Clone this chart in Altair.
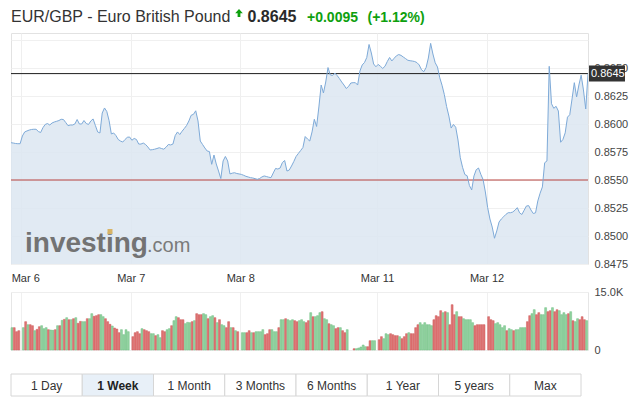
import altair as alt
import pandas as pd

# ---------------- data ----------------
# EUR/GBP price, one reading per 30-minute slot boundary (254 readings)
price = [
    0.85833, 0.85830, 0.85826, 0.85824, 0.85824, 0.85893, 0.85929, 0.85938, 0.85946, 0.85951,
    0.85953, 0.85953, 0.85933, 0.85924, 0.85967, 0.85996, 0.86004, 0.85991, 0.86009, 0.86018,
    0.86024, 0.86031, 0.86042, 0.86040, 0.86013, 0.85985, 0.85991, 0.85991, 0.86000, 0.86040,
    0.86000, 0.86000, 0.86031, 0.86004, 0.85996, 0.86027, 0.86045, 0.85987, 0.85929, 0.85920,
    0.86098, 0.86143, 0.86112, 0.86031, 0.85911, 0.85920, 0.85897, 0.85862, 0.85848, 0.85839,
    0.85862, 0.85881, 0.85884, 0.85855, 0.85871, 0.85862, 0.85821, 0.85821, 0.85830, 0.85817,
    0.85795, 0.85768, 0.85771, 0.85775, 0.85781, 0.85788, 0.85781, 0.85775, 0.85793, 0.85817,
    0.85813, 0.85821, 0.85897, 0.85929, 0.85906, 0.85935, 0.85960, 0.85987, 0.86027, 0.86078,
    0.86086, 0.86118, 0.86027, 0.85848, 0.85817, 0.85786, 0.85759, 0.85754, 0.85640, 0.85723,
    0.85643, 0.85580, 0.85513, 0.85670, 0.85710, 0.85670, 0.85554, 0.85561, 0.85565, 0.85558,
    0.85554, 0.85550, 0.85542, 0.85533, 0.85527, 0.85521, 0.85518, 0.85512, 0.85506, 0.85513,
    0.85527, 0.85536, 0.85531, 0.85525, 0.85521, 0.85563, 0.85603, 0.85598, 0.85607, 0.85656,
    0.85674, 0.85580, 0.85589, 0.85625, 0.85665, 0.85710, 0.85737, 0.85763, 0.85790, 0.85888,
    0.85866, 0.85848, 0.85929, 0.86042, 0.85978, 0.86152, 0.86348, 0.86277, 0.86375, 0.86504,
    0.86438, 0.86433, 0.86455, 0.86433, 0.86406, 0.86375, 0.86348, 0.86317, 0.86335, 0.86366,
    0.86369, 0.86369, 0.86348, 0.86473, 0.86527, 0.86549, 0.86594, 0.86710, 0.86634, 0.86536,
    0.86511, 0.86532, 0.86515, 0.86496, 0.86516, 0.86558, 0.86594, 0.86563, 0.86587, 0.86609,
    0.86620, 0.86613, 0.86598, 0.86584, 0.86569, 0.86565, 0.86562, 0.86558, 0.86548, 0.86527,
    0.86484, 0.86467, 0.86503, 0.86589, 0.86720, 0.86625, 0.86547, 0.86509, 0.86413, 0.86346,
    0.86263, 0.86156, 0.86071, 0.85964, 0.85996, 0.85971, 0.85857, 0.85699, 0.85613, 0.85549,
    0.85538, 0.85451, 0.85411, 0.85536, 0.85592, 0.85607, 0.85551, 0.85504, 0.85393, 0.85254,
    0.85152, 0.85080, 0.84980, 0.85045, 0.85125, 0.85152, 0.85172, 0.85193, 0.85208, 0.85208,
    0.85214, 0.85231, 0.85253, 0.85207, 0.85192, 0.85230, 0.85268, 0.85271, 0.85232, 0.85201,
    0.85207, 0.85313, 0.85382, 0.85438, 0.85654, 0.85670, 0.86515, 0.86181, 0.86140, 0.86158,
    0.86116, 0.85837, 0.85862, 0.85921, 0.86061, 0.86083, 0.86224, 0.86369, 0.86241, 0.86348,
    0.86436, 0.86304, 0.86134, 0.86450,
]

# volume bars per 30-minute slot, by session (u = up bar, d = down bar)
vol_pre = [5780, 5780, 4740, 5000]
dir_pre = "uddd"
vol_mar6 = [5780, 7330, 6550, 6550, 6290, 5000, 5340, 6030, 6290, 5520,
            5780, 5260, 5170, 5090, 5260, 6290, 6290, 7670, 7930, 8360,
            7840, 7840, 8100, 8360, 6900, 7410, 7330, 7330, 8100, 8100,
            9400, 8710, 8880, 9140, 9140, 8620, 8100, 7330, 6640, 6210,
            5690, 5430, 4480, 5260, 3970, 5260, 4740]
dir_mar6 = "ududdudduu" "uduudududu" "dududduudu" "uddduudddu" "ddduuuu"
vol_mar7 = [3450, 4480, 4740, 4220, 5520, 5260, 5000, 4740, 4220, 4220,
            3710, 3970, 3190, 5000, 4740, 5260, 5520, 6290, 7590, 8620,
            8360, 7840, 7840, 6810, 7160, 7070, 7330, 7590, 9400, 9140,
            9140, 9400, 9140, 8100, 8620, 8880, 8360, 7070, 7840, 6550,
            6290, 5780, 7330, 5780, 5780, 5000, 4740]
dir_mar7 = "dddduddduu" "duudduuduu" "ddduuududd" "duuduududu" "uddudud"
vol_mar8 = [4480, 4480, 4480, 5000, 4480, 4480, 4740, 4740, 4740, 5260,
            3970, 4220, 5260, 5260, 4740, 4740, 5780, 7840, 7840, 8100,
            7840, 7590, 7840, 7590, 7330, 7590, 7840, 7330, 7070, 7590,
            9660, 8620, 8620, 8880, 9660, 9910, 8100, 7840, 6810, 6550,
            6290, 5520, 5780, 5780, 5000, 4480, 5260]
dir_mar8 = "uudduduuuu" "ddduuuduud" "uuudduuudd" "uduuuduudu" "udduddu"
vol_sun = [340, 340, 520, 780, 1290, 860, 860, 2410, 2410, 2410]
dir_sun = "duuuuudduu"
vol_mar11 = [2670, 3450, 2930, 4220, 3970, 4220, 3970, 3710, 3710, 3450,
             2930, 3450, 4220, 4480, 4220, 4220, 5780, 6550, 7070, 6550,
             7070, 6550, 6550, 6290, 7840, 8880, 8620, 10170, 9660, 9910,
             9660, 6550, 11720, 9140, 9910, 8620, 8620, 8100, 7840, 7840,
             7840, 7070, 6290, 6550, 6550, 6550, 6550]
dir_mar11 = "dduuuddddu" "dddudddduu" "uuuuddddud" "udddudduuu" "uuddddd"
vol_mar12 = [8620, 7840, 7590, 6810, 7070, 6550, 5780, 6290, 5000, 5520,
             5260, 5000, 5260, 5260, 5780, 5780, 5780, 7330, 8880, 9400,
             10430, 9140, 9660, 9140, 9140, 10950, 9910, 10170, 10950, 9910,
             10430, 10170, 9140, 9660, 9140, 9400, 9910, 7590, 7330, 8100,
             7840, 8620, 7840, 7590]
dir_mar12 = "ddduuuuudu" "uduuuuuddu" "udduuuddud" "duuuududuu" "dddu"

# sessions in order; an int entry = number of empty slots
sessions = [(vol_pre, dir_pre), 1, (vol_mar6, dir_mar6), 1, (vol_mar7, dir_mar7), 1,
            (vol_mar8, dir_mar8), 2, (vol_sun, dir_sun), 1, (vol_mar11, dir_mar11), 1,
            (vol_mar12, dir_mar12)]

tick_pos = [4.5, 52.5, 100.5, 160.5, 208.5]
tick_labels = ["Mar 6", "Mar 7", "Mar 8", "Mar 11", "Mar 12"]

y_ticks = [0.8475, 0.8500, 0.8525, 0.8550, 0.8575, 0.8600, 0.8625, 0.8650, 0.8675]
levels = [0.8645, 0.8550]
level_colors = ["#1e1e1e", "#b8433f"]
last_price = "0.8645"
change = "+0.0095"
change_pct = "(+1.12%)"
title_text = "EUR/GBP - Euro British Pound"
buttons = ["1 Day", "1 Week", "1 Month", "3 Months", "6 Months", "1 Year", "5 years", "Max"]
active_button = "1 Week"

# ---------------- tables ----------------
price_df = pd.DataFrame({"t": list(range(len(price))), "price": price})

rows = []
slot = 0
for s in sessions:
    if isinstance(s, int):
        slot += s
        continue
    vols, dirs = s
    for v, d in zip(vols, dirs):
        rows.append({"t": slot, "t2": slot + 0.84, "vol": v, "dir": d})
        slot += 1
vol_df = pd.DataFrame(rows)
T_MAX = slot

W, H = 577, 231
GREEN = "#0ea00e"
FONT = "Liberation Sans"

xscale = alt.Scale(domain=[0, T_MAX], nice=False, zero=False)
yscale = alt.Scale(domain=[0.8475, 0.868125], nice=False, zero=False)

label_expr = " : ".join(
    f"datum.value == {p} ? '{l}'" for p, l in zip(tick_pos, tick_labels)
) + " : ''"

x_axis = alt.Axis(
    values=tick_pos, labelExpr=label_expr, grid=True, gridColor="#efefef",
    domain=False, ticks=False, tickSize=0, labelPadding=8, labelFontSize=11,
    labelColor="#333333", labelFont=FONT, title=None, labelOverlap=False,
    labelOffset={"condition": {"test": "datum.value < 10", "value": 4}, "value": 0},
)
y_axis = alt.Axis(
    orient="right", values=y_ticks, grid=True, gridColor="#f0f0f0",
    labelExpr="datum.value > 0.867 ? '' : format(datum.value, '.4f')",
    domain=False, ticks=False, tickSize=0, labelPadding=6, labelFontSize=11,
    labelColor="#444444", labelFont=FONT, title=None, labelOverlap=False,
    labelBound=False,
)

X = alt.X("t:Q", scale=xscale, axis=x_axis)
Y = alt.Y("price:Q", scale=yscale, axis=y_axis)

base = alt.Chart(price_df)
area = base.mark_area(color="#dce6f1", opacity=0.85, clip=True).encode(
    x=X, y=Y, y2=alt.datum(0.8475),
)

watermark = alt.Chart(pd.DataFrame({"s": ["investing"]})).mark_text(
    align="left", baseline="alphabetic", fontSize=28, fontWeight="bold",
    font=FONT, color="#737373",
).encode(text="s:N", x=alt.value(14), y=alt.value(219))
watermark2 = alt.Chart(pd.DataFrame({"s": [".com"]})).mark_text(
    align="left", baseline="alphabetic", fontSize=20, font=FONT, color="#7a7a7a",
).encode(text="s:N", x=alt.value(136), y=alt.value(219))
gold = alt.Chart(pd.DataFrame({"s": [1]})).mark_rect(color="#d8b466").encode(
    x=alt.value(96.5), x2=alt.value(101.5), y=alt.value(196), y2=alt.value(201)
)

lv_df = pd.DataFrame({"price": levels, "c": level_colors})
rules = alt.Chart(lv_df).mark_rule(strokeWidth=1).encode(
    y=Y, color=alt.Color("c:N", scale=None)
)

line = base.mark_line(color="#7eaad8", strokeWidth=1, clip=True).encode(x=X, y=Y)

box = alt.Chart(pd.DataFrame({"s": [last_price]})).mark_rect(color="#333333").encode(
    x=alt.value(578), x2=alt.value(614), y=alt.value(32.6), y2=alt.value(48.6)
)
box_text = alt.Chart(pd.DataFrame({"s": [last_price]})).mark_text(
    align="left", baseline="middle", fontSize=11, font=FONT, color="white"
).encode(text="s:N", x=alt.value(580), y=alt.value(40.8))

title = alt.Chart(pd.DataFrame({"s": [title_text]})).mark_text(
    align="left", baseline="alphabetic", fontSize=16, font=FONT, color="#333333"
).encode(text="s:N", x=alt.value(0), y=alt.value(-11))
arrow = alt.Chart(pd.DataFrame({"s": [1]})).mark_point(
    shape="M0,-1L0.95,0.05L0.35,0.05L0.35,1L-0.35,1L-0.35,0.05L-0.95,0.05Z",
    filled=True, color=GREEN, opacity=1, size=64,
).encode(x=alt.value(228), y=alt.value(-20))
price_txt = alt.Chart(pd.DataFrame({"s": [last_price]})).mark_text(
    align="left", baseline="alphabetic", fontSize=16, fontWeight="bold", font=FONT, color="#2a2a2a"
).encode(text="s:N", x=alt.value(236.5), y=alt.value(-11))
chg_txt = alt.Chart(pd.DataFrame({"s": [change]})).mark_text(
    align="left", baseline="alphabetic", fontSize=14, fontWeight="bold", font=FONT, color=GREEN
).encode(text="s:N", x=alt.value(296), y=alt.value(-11))
pct_txt = alt.Chart(pd.DataFrame({"s": [change_pct]})).mark_text(
    align="left", baseline="alphabetic", fontSize=14, fontWeight="bold", font=FONT, color=GREEN
).encode(text="s:N", x=alt.value(356.5), y=alt.value(-11))

price_chart = alt.layer(
    area, watermark, watermark2, gold, rules, line, box, box_text,
    title, arrow, price_txt, chg_txt, pct_txt,
).properties(width=W, height=H, view=alt.ViewBackground(stroke="#e2e2e2"))

# ---------------- volume ----------------
vol_chart = alt.Chart(vol_df).mark_bar(strokeWidth=0.5).encode(
    x=alt.X("t:Q", scale=xscale, axis=alt.Axis(
        values=tick_pos, labels=False, ticks=False, domain=False, grid=True,
        gridColor="#f0f0f0", title=None)),
    x2="t2:Q",
    y=alt.Y("vol:Q", scale=alt.Scale(domain=[0, 15000], nice=False), axis=alt.Axis(
        orient="right", values=[0, 15000], grid=True, gridColor="#eeeeee",
        labelExpr="datum.value == 0 ? '0' : format(datum.value / 1000, '.1f') + 'K'",
        domain=False, ticks=False, tickSize=0, labelPadding=6, labelFontSize=11,
        labelColor="#444444", labelFont=FONT, title=None, labelOverlap=False)),
    y2=alt.datum(0),
    fill=alt.Color("dir:N", scale=alt.Scale(domain=["u", "d"], range=["#93d3a1", "#df7272"]), legend=None),
    stroke=alt.Stroke("dir:N", scale=alt.Scale(domain=["u", "d"], range=["#6fbf82", "#cf5d5d"]), legend=None),
).properties(width=W, height=58, view=alt.ViewBackground(stroke="#e6e6e6"))

# ---------------- range buttons ----------------
btn_df = pd.DataFrame({
    "i": list(range(len(buttons))),
    "label": buttons,
    "active": [b == active_button for b in buttons],
})
btn_df["i2"] = btn_df["i"] + 1
btn_df["c"] = btn_df["i"] + 0.5
bscale = alt.Scale(domain=[0, len(buttons)], nice=False, zero=False)

b_rect = alt.Chart(btn_df).mark_rect(stroke="#d6d6d6", strokeWidth=1).encode(
    x=alt.X("i:Q", scale=bscale, axis=None), x2="i2:Q",
    y=alt.value(16), y2=alt.value(38),
    fill=alt.condition("datum.active", alt.value("#e8f0f8"), alt.value("#ffffff")),
)
b_txt = alt.Chart(btn_df).mark_text(fontSize=12, font=FONT, color="#333333", baseline="middle").encode(
    x=alt.X("c:Q", scale=bscale, axis=None), y=alt.value(27.5), text="label:N"
).transform_filter("!datum.active")
b_txt_a = alt.Chart(btn_df).mark_text(fontSize=12, font=FONT, color="#222222", fontWeight="bold", baseline="middle").encode(
    x=alt.X("c:Q", scale=bscale, axis=None), y=alt.value(27.5), text="label:N"
).transform_filter("datum.active")
btn_chart = alt.layer(b_rect, b_txt, b_txt_a).properties(
    width=570, height=38, view=alt.ViewBackground(stroke="transparent")
)

chart = alt.vconcat(price_chart, vol_chart, btn_chart, spacing=1).properties(
    padding={"left": 2, "top": 0, "right": 0, "bottom": 0},
    background="white",
).configure(font=FONT)

chart.save("out.html", embed_options={"renderer": "svg", "actions": False})
